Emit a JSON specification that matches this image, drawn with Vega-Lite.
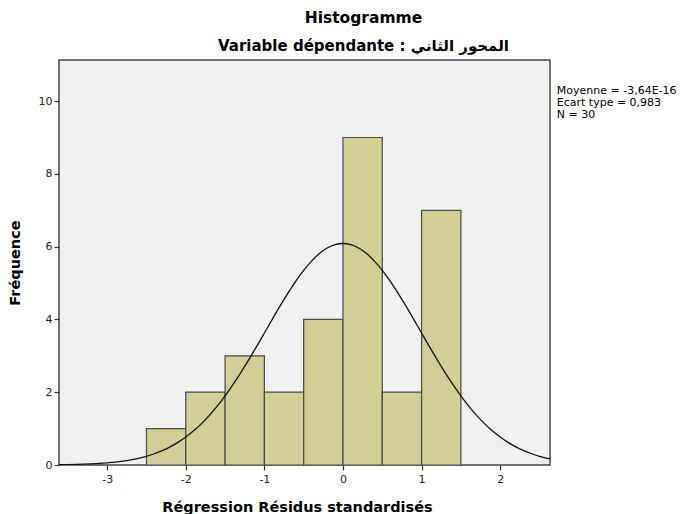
{
  "$schema": "https://vega.github.io/schema/vega-lite/v6.json",
  "width": 491,
  "height": 405,
  "autosize": {"type": "none"},
  "padding": {"left": 59, "top": 60, "right": 131, "bottom": 49},
  "background": "white",
  "title": {
    "text": "Histogramme",
    "subtitle": "Variable dépendante : المحور الثاني",
    "anchor": "middle",
    "dx": 59,
    "offset": 6,
    "font": "DejaVu Sans",
    "fontSize": 15.5,
    "fontWeight": "bold",
    "color": "#000000",
    "subtitleFont": "DejaVu Sans",
    "subtitleFontSize": 15,
    "subtitleFontWeight": "bold",
    "subtitleColor": "#000000",
    "subtitlePadding": 13
  },
  "config": {
    "view": {"fill": "#F0F0F0", "stroke": "#444444", "strokeWidth": 1.5},
    "axis": {
      "grid": false,
      "domain": false,
      "tickColor": "#333333",
      "tickSize": 5,
      "tickWidth": 1.2,
      "labelFont": "DejaVu Sans",
      "labelFontSize": 11,
      "labelColor": "#222222",
      "titleFont": "DejaVu Sans",
      "titleFontSize": 14.5,
      "titleFontWeight": "bold",
      "titleColor": "#000000"
    }
  },
  "datasets": {
    "bins": [
      {"start": -2.5, "end": -2.0, "count": 1},
      {"start": -2.0, "end": -1.5, "count": 2},
      {"start": -1.5, "end": -1.0, "count": 3},
      {"start": -1.0, "end": -0.5, "count": 2},
      {"start": -0.5, "end": 0.0, "count": 4},
      {"start": 0.0, "end": 0.5, "count": 9},
      {"start": 0.5, "end": 1.0, "count": 2},
      {"start": 1.0, "end": 1.5, "count": 7}
    ],
    "curve": [
      {"x": -3.7, "y": 0.0050},
      {"x": -3.6, "y": 0.0074},
      {"x": -3.5, "y": 0.0107},
      {"x": -3.4, "y": 0.0154},
      {"x": -3.3, "y": 0.0217},
      {"x": -3.2, "y": 0.030},
      {"x": -3.1, "y": 0.042},
      {"x": -3.0, "y": 0.058},
      {"x": -2.9, "y": 0.078},
      {"x": -2.8, "y": 0.105},
      {"x": -2.7, "y": 0.140},
      {"x": -2.6, "y": 0.184},
      {"x": -2.5, "y": 0.240},
      {"x": -2.4, "y": 0.309},
      {"x": -2.3, "y": 0.394},
      {"x": -2.2, "y": 0.497},
      {"x": -2.1, "y": 0.621},
      {"x": -2.0, "y": 0.768},
      {"x": -1.9, "y": 0.940},
      {"x": -1.8, "y": 1.138},
      {"x": -1.7, "y": 1.364},
      {"x": -1.6, "y": 1.618},
      {"x": -1.5, "y": 1.900},
      {"x": -1.4, "y": 2.208},
      {"x": -1.3, "y": 2.539},
      {"x": -1.2, "y": 2.889},
      {"x": -1.1, "y": 3.255},
      {"x": -1.0, "y": 3.628},
      {"x": -0.9, "y": 4.003},
      {"x": -0.8, "y": 4.371},
      {"x": -0.7, "y": 4.724},
      {"x": -0.6, "y": 5.052},
      {"x": -0.5, "y": 5.348},
      {"x": -0.4, "y": 5.603},
      {"x": -0.3, "y": 5.810},
      {"x": -0.2, "y": 5.962},
      {"x": -0.1, "y": 6.056},
      {"x": 0.0, "y": 6.087},
      {"x": 0.1, "y": 6.056},
      {"x": 0.2, "y": 5.962},
      {"x": 0.3, "y": 5.810},
      {"x": 0.4, "y": 5.603},
      {"x": 0.5, "y": 5.348},
      {"x": 0.6, "y": 5.052},
      {"x": 0.7, "y": 4.724},
      {"x": 0.8, "y": 4.371},
      {"x": 0.9, "y": 4.003},
      {"x": 1.0, "y": 3.628},
      {"x": 1.1, "y": 3.255},
      {"x": 1.2, "y": 2.889},
      {"x": 1.3, "y": 2.539},
      {"x": 1.4, "y": 2.208},
      {"x": 1.5, "y": 1.900},
      {"x": 1.6, "y": 1.618},
      {"x": 1.7, "y": 1.364},
      {"x": 1.8, "y": 1.138},
      {"x": 1.9, "y": 0.940},
      {"x": 2.0, "y": 0.768},
      {"x": 2.1, "y": 0.621},
      {"x": 2.2, "y": 0.497},
      {"x": 2.3, "y": 0.394},
      {"x": 2.4, "y": 0.309},
      {"x": 2.5, "y": 0.240},
      {"x": 2.6, "y": 0.184},
      {"x": 2.7, "y": 0.140}
    ]
  },
  "layer": [
    {
      "data": {"name": "bins"},
      "mark": {"type": "rect", "fill": "#D2CE96", "stroke": "#4A4A4A", "strokeWidth": 1.2},
      "encoding": {
        "x": {
          "field": "start", "type": "quantitative",
          "scale": {"domain": [-3.613, 2.634], "nice": false, "zero": false},
          "axis": {"values": [-3, -2, -1, 0, 1, 2], "title": "Régression Résidus standardisés", "titlePadding": 16, "labelPadding": 3, "labelExpr": "'' + datum.value", "titleX": 238}
        },
        "x2": {"field": "end"},
        "y": {
          "field": "count", "type": "quantitative",
          "scale": {"domain": [0, 11.13], "nice": false},
          "axis": {"values": [0, 2, 4, 6, 8, 10], "title": "Fréquence", "titlePadding": 16, "labelPadding": 2}
        },
        "y2": {"datum": 0}
      }
    },
    {
      "data": {"name": "curve"},
      "mark": {"type": "line", "color": "#111111", "strokeWidth": 1.3, "clip": true, "interpolate": "monotone"},
      "encoding": {
        "x": {"field": "x", "type": "quantitative"},
        "y": {"field": "y", "type": "quantitative"}
      }
    },
    {
      "data": {"values": [{}]},
      "mark": {"type": "text", "align": "left", "baseline": "top", "font": "DejaVu Sans", "fontSize": 11, "lineHeight": 12, "color": "#000000", "clip": false},
      "encoding": {
        "x": {"datum": 2.72},
        "y": {"datum": 10.45},
        "text": {"value": ["Moyenne = -3,64E-16", "Ecart type = 0,983", "N = 30"]}
      }
    }
  ]
}
